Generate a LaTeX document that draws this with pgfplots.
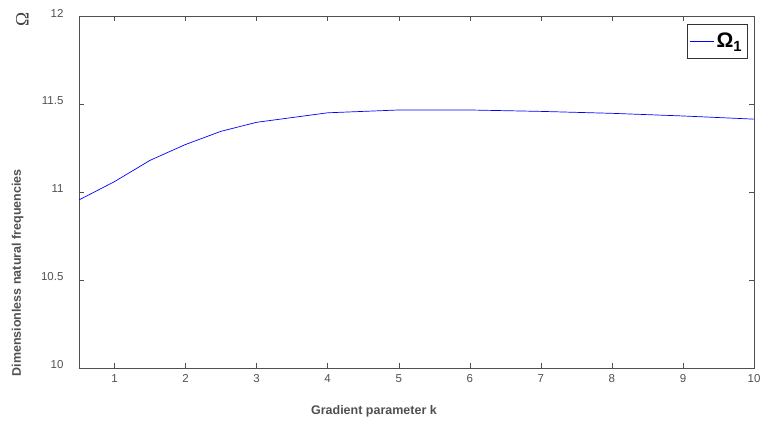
\documentclass[border=0pt]{standalone}
\usepackage{pgfplots}
\pgfplotsset{compat=1.18}
\usetikzlibrary{calc}
\usepackage{fontspec}
\setmainfont{Liberation Sans}
\newfontfamily\serifomega{Liberation Serif}
\definecolor{axgray}{RGB}{80,80,80}
\begin{document}
\begin{tikzpicture}
\begin{axis}[
  name=ax,
  width=675pt, height=352pt,
  scale only axis,
  xmin=0.5, xmax=10, ymin=10, ymax=12,
  xtick={1,2,...,10},
  ytick={10,10.5,11,11.5,12},
  yticklabels={10,10.5,11,11.5,12},
  tick align=inside,
  major tick length=5pt,
  axis line style={axgray},
  every tick/.style={axgray},
  tick label style={font=\fontsize{11.5}{13}\selectfont, text=axgray},
  yticklabel style={xshift=-12pt, yshift=3pt},
  xticklabel style={yshift=-3pt},
  /pgf/number format/assume math mode=true,
  xlabel={\textbf{Gradient parameter k}},
  ylabel={\textbf{Dimensionless natural frequencies}},
  label style={font=\fontsize{12.5}{14}\selectfont, text=axgray},
  ylabel style={at={(rel axis cs:-0.091,-0.034)}, anchor=west},
  xlabel style={at={(rel axis cs:0.437,-0.122)}, anchor=center},
  legend style={at={(rel axis cs:0.99,0.977)}, anchor=north east,
    draw=black!80, font=\fontsize{21}{23}\selectfont\bfseries,
    inner xsep=3pt, inner ysep=7pt, row sep=0pt},
  legend image post style={xscale=1.4, line width=0.8pt, draw=blue},
  legend cell align=left,
  clip=false,
]
\addplot[blue, line width=0.7pt] coordinates {
  (0.5,10.955) (1,11.059) (1.5,11.18) (2,11.27) (2.5,11.345) (3,11.396)
  (4,11.45) (5,11.466) (6,11.466) (7,11.458) (8,11.447) (9,11.432) (10,11.414)
};
\addlegendentry{Ω\textsubscript{1}}
\node[rotate=90, font=\serifomega\fontsize{19}{20}\selectfont, text=black!75]
  at (rel axis cs:-0.084,0.99) {Ω};
\end{axis}
\pgfresetboundingbox
\path ($(ax.south west)+(-79pt,-55pt)$) rectangle ($(ax.north east)+(8pt,16pt)$);
\end{tikzpicture}
\end{document}
